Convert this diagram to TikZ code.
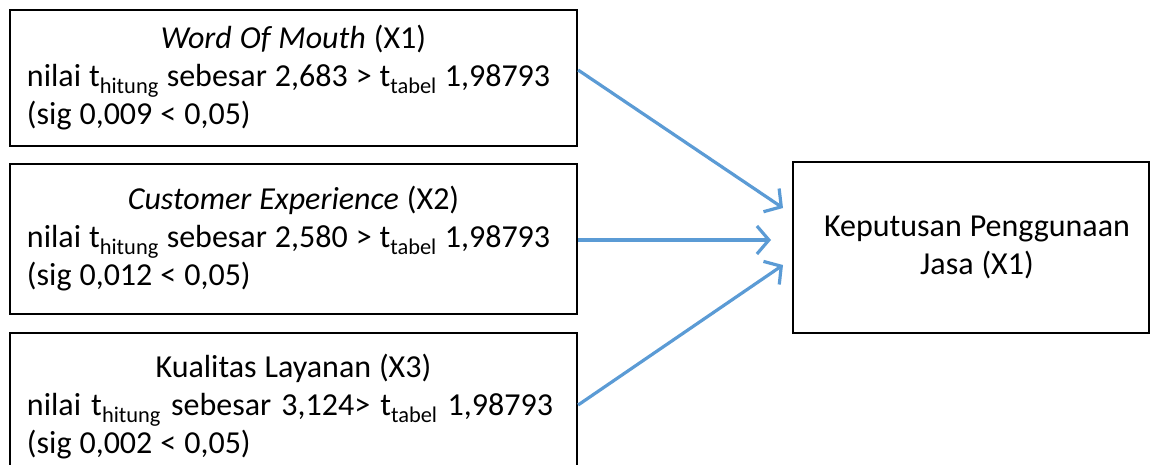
\documentclass[tikz,border=0pt]{standalone}
\usepackage{fontspec}
\setmainfont{Carlito}[WordSpace=1.1]
\usetikzlibrary{arrows.meta}
\definecolor{arrowblue}{RGB}{91,155,213}
\tikzset{
  varbox/.style={draw, line width=2.2, text width=533, inner xsep=17, inner ysep=0,
    minimum height=#1, align=flush left, font=\fontsize{32}{38}\selectfont},
  resbox/.style={draw, line width=2.2, minimum width=356, minimum height=171,
    align=flush center, font=\fontsize{32}{38}\selectfont},
  effect/.style={draw=arrowblue, line width=3.2, -{Straight Barb[length=12,width=28,line width=3.2]}}
}
\newcommand{\tsub}[1]{t\textsubscript{#1}}
\begin{document}
\begin{tikzpicture}[x=1pt,y=-1pt]
        \useasboundingbox (0,0) rectangle (1151,464);
        % the three independent variables
        \node[varbox=136] (wom) at (293.5, 78)
          {\centerline{\textit{Word Of Mouth} (X1)}\\
           nilai \tsub{hitung} sebesar 2,683 > \tsub{tabel} 1,98793\\
           (sig 0,009 < 0,05)};
        \node[varbox=150] (cx) at (293.5, 239)
          {\centerline{\textit{Customer Experience} (X2)}\\
           nilai \tsub{hitung} sebesar 2,580 > \tsub{tabel} 1,98793\\
           (sig 0,012 < 0,05)};
        \node[varbox=148] (kl) at (293.5, 407)
          {\centerline{Kualitas Layanan (X3)}\\
           \makebox[526pt][s]{nilai \tsub{hitung} sebesar 3,124> \tsub{tabel} 1,98793}\\
           (sig 0,002 < 0,05)};
        % the dependent variable
        \node[resbox] (kpj) at (971, 247.5) {\hspace*{12pt}Keputusan Penggunaan\\\hspace*{12pt}Jasa (X1)};
        % arrow tips in front of the dependent box
        \coordinate (tip1) at (783, 208);
        \coordinate (tip2) at (771, 240);
        \coordinate (tip3) at (783, 265);
        % drawing the arrows
        \draw[effect] (wom.east |- 0,70)  -- (tip1);
        \draw[effect] (cx.east |- 0,240)  -- (tip2);
        \draw[effect] (kl.east |- 0,405)  -- (tip3);
\end{tikzpicture}
\end{document}
